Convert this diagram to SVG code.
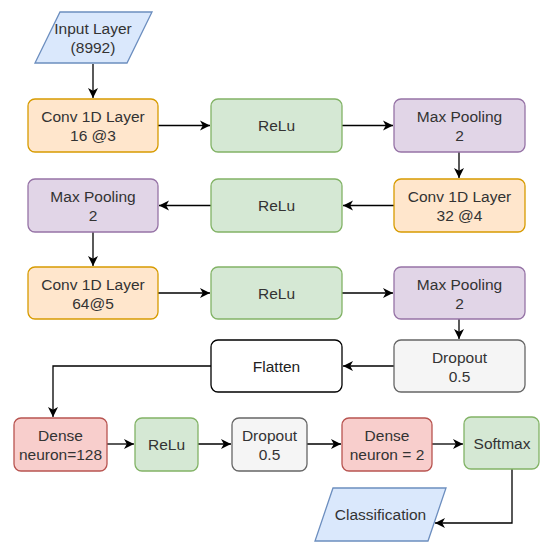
<svg xmlns="http://www.w3.org/2000/svg" width="540" height="542" viewBox="0 0 540 542">
<style>
rect, polygon { stroke-width: 1.3; }
.orange { fill: #ffe6cc; stroke: #d79b00; }
.green { fill: #d5e8d4; stroke: #82b366; }
.purple { fill: #e1d5e7; stroke: #9673a6; }
.blue { fill: #dae8fc; stroke: #6c8ebf; }
.red { fill: #f8cecc; stroke: #b85450; }
.grey { fill: #f5f5f5; stroke: #666666; }
.white { fill: #ffffff; stroke: #000000; }
text { font-family: "Liberation Sans", Arial, sans-serif; font-size: 15.5px; fill: #333333; text-anchor: middle; dominant-baseline: central; }
.conn { fill: none; stroke: #000000; stroke-width: 1.3; marker-end: url(#arr); }
</style>
<defs>
<marker id="arr" markerWidth="12" markerHeight="12" refX="10" refY="5.5" orient="auto" markerUnits="userSpaceOnUse">
<path d="M0,0.5 L10,5.5 L0,10.5 L2.8,5.5 Z" fill="#000"/>
</marker>
</defs>
<rect width="540" height="542" fill="#ffffff"/>
<g id="connectors">
<path class="conn" d="M93,64 V98"/>
<path class="conn" d="M158,125.5 H210"/>
<path class="conn" d="M342,125.5 H393"/>
<path class="conn" d="M459,152 V178"/>
<path class="conn" d="M394,205.5 H343"/>
<path class="conn" d="M211,205.5 H159"/>
<path class="conn" d="M93,232 V266"/>
<path class="conn" d="M158,293 H210"/>
<path class="conn" d="M342,293 H393"/>
<path class="conn" d="M459,319 V339"/>
<path class="conn" d="M394,366 H343"/>
<path class="conn" d="M211,366 H53 V417"/>
<path class="conn" d="M107,444 H134"/>
<path class="conn" d="M198,444 H231"/>
<path class="conn" d="M307,444 H341"/>
<path class="conn" d="M432,444 H463"/>
<path class="conn" d="M512,468 V523 H435"/>
</g>
<g id="input"><polygon class="blue" points="60,12 152,12 127,63 35,63"/><text x="93" y="28">Input Layer</text><text x="93" y="47">(8992)</text></g>
<g id="conv16"><rect class="orange" x="28" y="99" width="130" height="53" rx="7"/><text x="93" y="116">Conv 1D Layer</text><text x="93" y="135">16 @3</text></g>
<g id="relu1"><rect class="green" x="211" y="99" width="131" height="53" rx="7"/><text x="276.5" y="125.5">ReLu</text></g>
<g id="maxpool1"><rect class="purple" x="394" y="99" width="131" height="53" rx="7"/><text x="459.5" y="116">Max Pooling</text><text x="459.5" y="135">2</text></g>
<g id="conv32"><rect class="orange" x="394" y="179" width="131" height="53" rx="7"/><text x="459.5" y="196">Conv 1D Layer</text><text x="459.5" y="215">32 @4</text></g>
<g id="relu2"><rect class="green" x="211" y="179" width="131" height="53" rx="7"/><text x="276.5" y="205.5">ReLu</text></g>
<g id="maxpool2"><rect class="purple" x="28" y="179" width="130" height="53" rx="7"/><text x="93" y="196">Max Pooling</text><text x="93" y="215">2</text></g>
<g id="conv64"><rect class="orange" x="28" y="267" width="130" height="52" rx="7"/><text x="93" y="284">Conv 1D Layer</text><text x="93" y="303">64@5</text></g>
<g id="relu3"><rect class="green" x="211" y="267" width="131" height="52" rx="7"/><text x="276.5" y="293">ReLu</text></g>
<g id="maxpool3"><rect class="purple" x="394" y="267" width="131" height="52" rx="7"/><text x="459.5" y="284">Max Pooling</text><text x="459.5" y="303">2</text></g>
<g id="dropout1"><rect class="grey" x="394" y="340" width="131" height="52" rx="7"/><text x="459.5" y="357">Dropout</text><text x="459.5" y="376">0.5</text></g>
<g id="flatten"><rect class="white" x="211" y="340" width="131" height="52" rx="7"/><text x="276.5" y="366" style="fill:#222">Flatten</text></g>
<g id="dense128"><rect class="red" x="14" y="418" width="93" height="53" rx="7"/><text x="60.5" y="435">Dense</text><text x="60.5" y="454">neuron=128</text></g>
<g id="relu4"><rect class="green" x="135" y="418" width="63" height="53" rx="7"/><text x="166.5" y="444">ReLu</text></g>
<g id="dropout2"><rect class="grey" x="232" y="418" width="75" height="53" rx="7"/><text x="269.5" y="435">Dropout</text><text x="269.5" y="454">0.5</text></g>
<g id="dense2"><rect class="red" x="342" y="418" width="90" height="53" rx="7"/><text x="387" y="435">Dense</text><text x="387" y="454">neuron = 2</text></g>
<g id="softmax"><rect class="green" x="464" y="417" width="75" height="52" rx="7"/><text x="502" y="443">Softmax</text></g>
<g id="classification"><polygon class="blue" points="333,488 446,488 428,541 315,541"/><text x="380.5" y="514">Classification</text></g>
</svg>
